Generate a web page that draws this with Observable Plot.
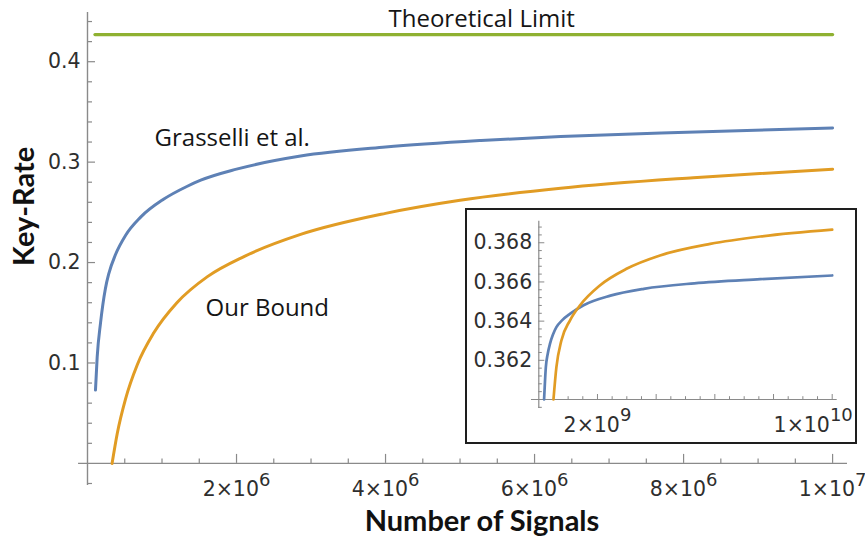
<!DOCTYPE html>
<html>
<head>
<meta charset="utf-8">
<script src="https://cdn.jsdelivr.net/npm/d3@7"></script>
<script src="https://cdn.jsdelivr.net/npm/@observablehq/plot@0.6"></script>
<style>
html, body { margin: 0; padding: 0; background: #fff; }
#wrap { position: relative; width: 865px; height: 537px; overflow: hidden; background: #fff; }
#main { position: absolute; left: 0; top: 0; }
#inset { position: absolute; left: 465px; top: 208px; width: 392px; height: 236px; box-sizing: border-box; border: 2px solid #1e1e1e; background: #fff; }
</style>
</head>
<body>
<div id="wrap"><div id="main"></div><div id="inset"></div></div>
<script>
// ---------- data ----------
// Main panel: number of signals vs key rate
const grasselliN    = [1.07e5, 1.3e5, 1.75e5, 2.4e5, 2.86e5, 3.76e5, 5.1e5, 7.1e5, 1.02e6, 1.34e6, 1.52e6, 2.0e6, 2.86e6, 4.0e6, 5.28e6, 6.35e6, 7.7e6, 1.0e7];
const grasselliRate = [0.073, 0.106, 0.140, 0.174, 0.189, 0.208, 0.227, 0.245, 0.263, 0.276, 0.282, 0.293, 0.306, 0.315, 0.3215, 0.3255, 0.329, 0.334];

const boundN    = [3.3e5, 4.0e5, 5.1e5, 6.67e5, 8.9e5, 1.2e6, 1.61e6, 2.1e6, 2.86e6, 4.0e6, 5.0e6, 6.35e6, 8.13e6, 1.0e7];
const boundRate = [0.0, 0.030, 0.064, 0.098, 0.130, 0.160, 0.186, 0.206, 0.228, 0.249, 0.262, 0.274, 0.2845, 0.293];

const limitN    = [1.0e5, 1.0e7];
const limitRate = [0.427, 0.427];

// Inset panel
const insetGrasselliN    = [0.18e9, 0.21e9, 0.24e9, 0.3e9, 0.38e9, 0.48e9, 0.6e9, 0.8e9, 1.06e9, 1.51e9, 2.44e9, 3.58e9, 5.3e9, 7.55e9, 1.0e10];
const insetGrasselliRate = [0.360, 0.3609, 0.36165, 0.3623, 0.36284, 0.3633, 0.36369, 0.36405, 0.36437, 0.3648, 0.3653, 0.36565, 0.36593, 0.36614, 0.36633];
const insetBoundN    = [0.5e9, 0.6e9, 0.77e9, 1.06e9, 1.4e9, 2.08e9, 2.99e9, 4.13e9, 5.84e9, 7.55e9, 1.0e10];
const insetBoundRate = [0.360, 0.36165, 0.36301, 0.36403, 0.3648, 0.36582, 0.36667, 0.36735, 0.36794, 0.36832, 0.36867];

// Annotations
const annotationText = ["Grasselli et al.", "Our Bound", "Theoretical Limit"];
const annotationN    = [0.9e6, 1.584e6, 4.04e6];
const annotationRate = [0.324, 0.154, 0.4427];

// Ticks
const xTicks      = [2e6, 4e6, 6e6, 8e6, 1e7];
const xTickLabels = ["2×10^6", "4×10^6", "6×10^6", "8×10^6", "1×10^7"];
const yTicks      = [0.1, 0.2, 0.3, 0.4];
const yTickLabels = ["0.1", "0.2", "0.3", "0.4"];

const insetXMajor       = [2e9, 4e9, 6e9, 8e9, 1e10];
const insetXLabelTicks  = [2e9, 1e10];
const insetXTickLabels  = ["2×10^9", "1×10^10"];
const insetYTicks       = [0.362, 0.364, 0.366, 0.368];
const insetYTickLabels  = ["0.362", "0.364", "0.366", "0.368"];

const xTitle = "Number of Signals";
const yTitle = "Key-Rate";

// ---------- styling ----------
const blue = "#5e81b5", orange = "#e19c24", green = "#8fb131";
const axisColor = "#8a8a8a", tickText = "#2e2e2e";
const tickFont = {fontFamily: "DejaVu Sans", fontSize: 20.5};

const round = v => Math.round(v * 1e6) / 1e6;
const xMinor = d3.range(1, 21).map(k => k * 0.5e6).filter(v => !xTicks.includes(v));
const yMinor = d3.range(-1, 23).map(k => round(k * 0.02)).filter(v => v !== 0 && !yTicks.includes(v));
const insetXMinor = d3.range(1, 21).map(k => k * 0.5e9).filter(v => !insetXMajor.includes(v));
const insetYMinor = d3.range(-1, 23).map(k => round(0.360 + k * 0.0004)).filter(v => v !== 0.36 && !insetYTicks.includes(v));

const zip = (a, b) => a.map((n, i) => ({n, r: b[i]}));
const grasselli = zip(grasselliN, grasselliRate);
const bound = zip(boundN, boundRate);
const limit = zip(limitN, limitRate);
const insetG = zip(insetGrasselliN, insetGrasselliRate);
const insetB = zip(insetBoundN, insetBoundRate);
const annotations = annotationText.map((t, i) => ({t, n: annotationN[i], r: annotationRate[i]}));

const xLabelMap = new Map(xTicks.map((v, i) => [v, xTickLabels[i]]));
const yLabelMap = new Map(yTicks.map((v, i) => [v, yTickLabels[i]]));
const ixLabelMap = new Map(insetXLabelTicks.map((v, i) => [v, insetXTickLabels[i]]));
const iyLabelMap = new Map(insetYTicks.map((v, i) => [v, insetYTickLabels[i]]));

function superscripts(svg, shiftLast) {
  const texts = [];
  d3.select(svg).selectAll("text").each(function() {
    if (this.textContent.includes("^")) texts.push(this);
  });
  texts.forEach((el, i) => {
    const [base, exp] = el.textContent.split("^");
    const s = d3.select(el);
    s.text(null);
    const b = s.append("tspan").text(base);
    if (shiftLast && i === texts.length - 1) b.attr("dx", shiftLast);
    s.append("tspan").attr("dy", -10.5).attr("font-size", "18px").text(exp);
  });
}

// ---------- main chart ----------
const main = Plot.plot({
  width: 865, height: 537,
  marginLeft: 87, marginRight: 18, marginTop: 12, marginBottom: 74.1,
  x: {domain: [0, 10.2e6]},
  y: {domain: [0, 0.449]},
  style: {background: "white", color: tickText, overflow: "visible"},
  marks: [
    Plot.ruleY([0], {x1: -0.12e6, x2: 10.2e6, stroke: axisColor, strokeWidth: 1.4}),
    Plot.ruleX([0], {y1: -0.022, y2: 0.449, stroke: axisColor, strokeWidth: 1.4}),
    Plot.axisX(xMinor, {anchor: "bottom", tickSize: -4.5, tickFormat: () => "", stroke: axisColor, strokeWidth: 1.2, label: null}),
    Plot.axisX(xTicks, {anchor: "bottom", tickSize: -9, tickFormat: () => "", stroke: axisColor, strokeWidth: 1.2, label: null}),
    Plot.axisX(xTicks, {anchor: "bottom", tickSize: 0, tickPadding: 18.5, tickFormat: d => xLabelMap.get(d), fill: tickText, label: null, ...tickFont}),
    Plot.axisY(yMinor, {anchor: "left", tickSize: -5, tickFormat: () => "", stroke: axisColor, strokeWidth: 1.2, label: null}),
    Plot.axisY(yTicks, {anchor: "left", tickSize: -8, tickFormat: () => "", stroke: axisColor, strokeWidth: 1.2, label: null}),
    Plot.axisY(yTicks, {anchor: "left", tickSize: 0, tickPadding: 7, tickFormat: d => yLabelMap.get(d), fill: tickText, label: null, ...tickFont}),
    Plot.line(limit, {x: "n", y: "r", stroke: green, strokeWidth: 3.2}),
    Plot.line(grasselli, {x: "n", y: "r", stroke: blue, strokeWidth: 3, curve: "monotone-x"}),
    Plot.line(bound, {x: "n", y: "r", stroke: orange, strokeWidth: 3, curve: "monotone-x"}),
    Plot.text(annotations, {x: "n", y: "r", text: "t", textAnchor: "start", fontFamily: "Open Sans", fontSize: 24, fill: "#151515"}),
    Plot.text([yTitle], {frameAnchor: "left", text: d => d, rotate: -90, textAnchor: "middle", lineAnchor: "middle", dx: -63, dy: -31.6, fontFamily: "Lato", fontWeight: "bold", fontSize: 29, fill: "#111"}),
    Plot.text([xTitle], {frameAnchor: "bottom", text: d => d, dx: 14.5, dy: 68, fontFamily: "Lato", fontWeight: "bold", fontSize: 29, fill: "#111"})
  ]
});
superscripts(main, null);
document.getElementById("main").append(main);

// ---------- inset ----------
const inset = Plot.plot({
  width: 388, height: 232,
  marginLeft: 71.3, marginRight: 23.3, marginTop: 10.7, marginBottom: 43,
  x: {domain: [0, 1e10]},
  y: {domain: [0.360, 0.3691]},
  style: {background: "white", color: tickText, overflow: "visible"},
  marks: [
    Plot.ruleY([0.360], {x1: -0.25e9, x2: 1.017e10, stroke: axisColor, strokeWidth: 1.2}),
    Plot.ruleX([0], {y1: 0.35954, y2: 0.3691, stroke: axisColor, strokeWidth: 1.2}),
    Plot.axisX(insetXMinor, {anchor: "bottom", tickSize: -2.8, tickFormat: () => "", stroke: axisColor, label: null}),
    Plot.axisX(insetXMajor, {anchor: "bottom", tickSize: -5, tickFormat: () => "", stroke: axisColor, label: null}),
    Plot.axisX(insetXLabelTicks, {anchor: "bottom", tickSize: 0, tickPadding: 17.5, tickFormat: d => ixLabelMap.get(d), fill: tickText, label: null, ...tickFont}),
    Plot.axisY(insetYMinor, {anchor: "left", tickSize: -3.5, tickFormat: () => "", stroke: axisColor, label: null}),
    Plot.axisY(insetYTicks, {anchor: "left", tickSize: -6, tickFormat: () => "", stroke: axisColor, label: null}),
    Plot.axisY(insetYTicks, {anchor: "left", tickSize: 0, tickPadding: 6.6, tickFormat: d => iyLabelMap.get(d), fill: tickText, label: null, ...tickFont}),
    Plot.line(insetG, {x: "n", y: "r", stroke: blue, strokeWidth: 2.7, curve: "monotone-x"}),
    Plot.line(insetB, {x: "n", y: "r", stroke: orange, strokeWidth: 2.7, curve: "monotone-x"})
  ]
});
superscripts(inset, -19);
document.getElementById("inset").append(inset);
</script>
</body>
</html>
